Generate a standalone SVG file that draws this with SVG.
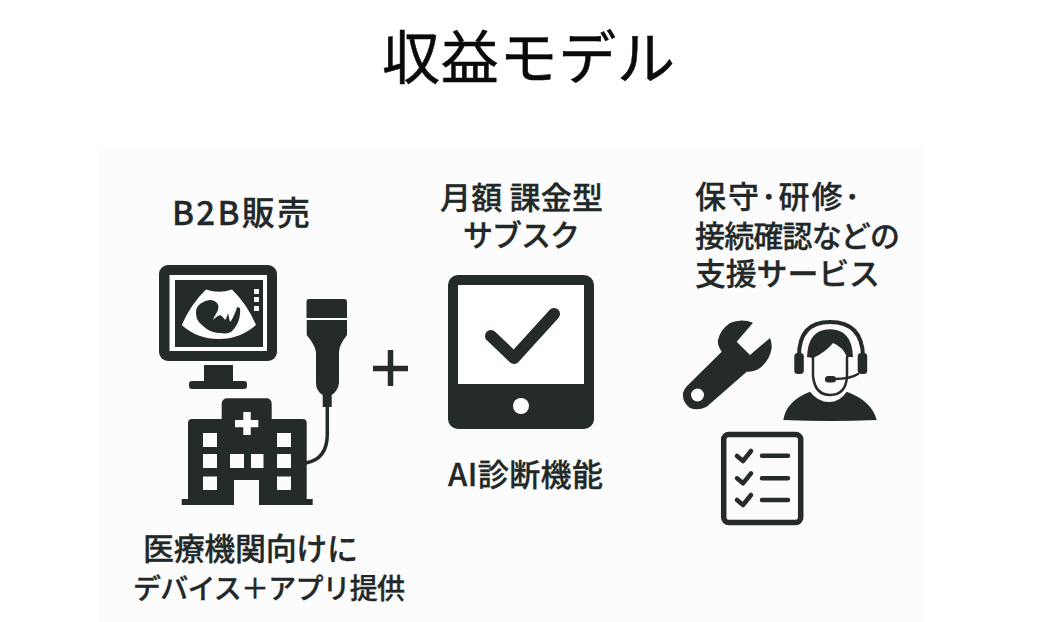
<svg xmlns="http://www.w3.org/2000/svg" width="1046" height="622" viewBox="0 0 1046 622">
<style>
text{font-family:"Noto Sans CJK JP","Noto Sans",sans-serif;fill:#222828}
.t{font-weight:500;stroke:#222828;stroke-width:.3}
.d{fill:#252a2a}
.w{fill:#fff}
.b{fill:#fcfcfc}
.s{fill:none;stroke:#252a2a;stroke-linecap:round;stroke-linejoin:round}
</style>
<rect width="1046" height="622" fill="#fff"/>
<rect x="97" y="147" width="826" height="475" fill="#fcfcfc"/>
<text id="title" x="382" y="79" font-size="58" style="fill:#0a0a0a;stroke:#0a0a0a;stroke-width:.5" textLength="293">収益モデル</text>
<g id="b2b">
<text class="t" x="172" y="225" font-size="33" textLength="138">B2B販売</text>
<g id="monitor">
<rect class="d" x="159" y="265" width="118" height="96" rx="9"/>
<rect class="w" x="169.500" y="275" width="97.500" height="76"/>
<rect class="d" x="175" y="280" width="88" height="67"/>
<path class="w" d="M206 289.500Q219 294 232 289.500Q247 304 256 325Q240 339 219 339Q197 339 181.700 325Q191 304 206 289.500Z"/>
<path class="d" d="M210 300C203 301 196 305 196 312C196 318 198 322 202 325C208 331 214 333 220 333C226 334 231 333 233 330C238 325 241 316 240 308L237 307C236 311 235 313 234 315C233 318 231 321 230 322L228 313C227 317 226 319 225 320C224 318 222 316 220 315C217 316 215 318 213 320C214 316 217 313 218 310C219 306 218 304 217 303C215 301 213 300 210 300Z"/>
<rect class="b" x="254" y="289" width="5" height="5"/>
<rect class="b" x="254" y="297" width="5" height="5"/>
<rect class="b" x="254" y="306" width="5" height="5"/>
<rect class="d" x="204" y="365" width="29" height="17"/>
<rect class="d" x="189" y="381" width="58" height="8" rx="3"/>
</g>
<g id="probe">
<path class="d" d="M309 299H344Q347 299 347 302V318H306.500V302Q306.500 299 309 299Z"/>
<path class="d" d="M306.700 320H347V335Q339 345 339 352V383Q338 391 331.700 395V407H322.700V395Q316 391 316 383V352Q315 345 306.700 335Z"/>
<path class="s" stroke-width="3.500" style="stroke-linecap:butt" d="M327.300 406V435Q327 459 306 463"/>
</g>
<g id="hospital">
<path class="d" d="M221.700 404Q221.700 398.300 228 398.300H266Q271.700 398.300 271.700 404V419H302.700Q306.700 419 306.700 423V499H312.700V505H181.700V499H188V423Q188 419 192 419H221.700Z"/>
<path class="w" d="M243.300 412H250.700V420H258.300V427.300H250.700V435H243.300V427.300H235V420H243.300Z"/>
<g class="b">
<rect x="203" y="433" width="14" height="14"/><rect x="277" y="433" width="14" height="14"/>
<rect x="203" y="454" width="14" height="14"/><rect x="230" y="454" width="14" height="14"/><rect x="251" y="454" width="12.500" height="14"/><rect x="277" y="454" width="14" height="14"/>
<rect x="203" y="476.500" width="14" height="13.500"/><rect x="277" y="476.500" width="14" height="13.500"/>
<rect x="234" y="480" width="25" height="25"/>
</g>
</g>
<text class="t" x="143" y="560" font-size="31" textLength="215">医療機関向けに</text>
<text class="t" x="133" y="599" font-size="28" textLength="272">デバイス＋アプリ提供</text>
</g>
<g id="plus"><path class="s" style="stroke-linecap:butt" stroke-width="5.500" d="M373 368.500H408M390.500 350V386"/></g>
<g id="subscription">
<text class="t" x="440" y="209" font-size="31" textLength="163">月額 課金型</text>
<text class="t" x="463" y="246" font-size="30" textLength="117">サブスク</text>
<rect class="d" x="448" y="275" width="146" height="154" rx="10"/>
<rect class="w" x="458" y="285" width="126" height="99"/>
<circle class="w" cx="521" cy="406" r="8"/>
<path class="s" stroke-width="12" d="M491 336L514 358L554 314"/>
<text class="t" x="448" y="486" font-size="31" textLength="155">AI診断機能</text>
</g>
<g id="support">
<text class="t" x="695" y="208" font-size="31" textLength="165">保守･研修･</text>
<text class="t" x="695" y="247" font-size="30" textLength="205">接続確認などの</text>
<text class="t" x="695" y="285" font-size="31" textLength="185">支援サービス</text>
<g id="wrench">
<path class="d" d="M753 322.700L736.700 341.700L750 355L770 338Q772 343 771.700 348Q770 360 760 368Q754 372 746.700 371.700L706.700 406.700Q698 411 690 408Q682 402 683 393Q684 389 687 386L721.700 351.700Q717 345 718 340Q720 330 730 323Q741 318 753 322.700Z"/>
<circle class="b" cx="697.500" cy="395" r="6.500"/>
</g>
<g id="agent">
<path class="d" d="M783.300 420Q786 401 810 391.700Q818 402 829 402Q840 402 846.700 391.700Q872 401 876.700 420Q830 422 783.300 420Z"/>
<path class="s" stroke-width="4" d="M799 356Q799 322 830 322Q862 322 863 356"/>
<rect class="d" x="794.300" y="353" width="9.500" height="21" rx="3.500"/>
<rect class="d" x="857.700" y="353" width="9.500" height="21" rx="3.500"/>
<path class="d" d="M807 357Q808 329.300 830 329.300Q852 329.300 853 357L847 357Q843 347 833 343Q826 352 813 358Z"/>
<path class="s" stroke-width="2.500" d="M813 358V376Q815 395 830 395Q846 395 847 376V357"/>
<path class="s" stroke-width="2.500" d="M858 374Q850 379 835 379"/>
<rect class="d" x="825" y="376" width="11" height="6.500" rx="3.200"/>
</g>
<g id="checklist">
<rect x="723.700" y="434.500" width="77" height="88" rx="5" fill="#fcfcfc" stroke="#252a2a" stroke-width="5.500"/>
<path class="s" stroke-width="4.500" d="M737 456L743 461L751 451M737 478.300L743 483.300L751 473.300M737 500L743 505L751 495"/>
<path class="s" stroke-width="4.500" d="M762 455.700H788M762 478.300H788M762 500H788"/>
</g>
</g>
</svg>
